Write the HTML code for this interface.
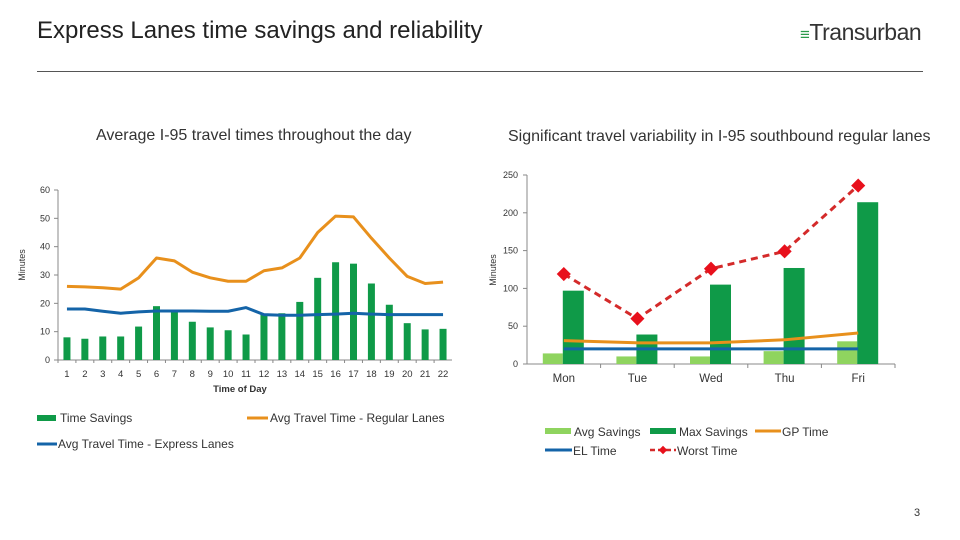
<!DOCTYPE html>
<html><head><meta charset="utf-8"><style>
body{margin:0;width:960px;height:540px;background:#fff;font-family:"Liberation Sans",sans-serif;overflow:hidden;position:relative}
.t{position:absolute;white-space:nowrap}
</style></head><body>
<div class="t" style="left:37px;top:17px;font-size:24px;color:#222">Express Lanes time savings and reliability</div>
<div class="t" style="left:800px;top:19px;font-size:23px;color:#333;letter-spacing:-0.5px"><span style="color:#2a9a4a;font-size:17px">≡</span>Transurban</div>
<div style="position:absolute;left:37px;top:71px;width:886px;height:1px;background:#555"></div>
<div class="t" style="left:96px;top:127px;font-size:16px;color:#333">Average I-95 travel times throughout the day</div>
<div class="t" style="left:508px;top:128px;font-size:16px;color:#333">Significant travel variability in I-95 southbound regular lanes</div>
<div class="t" style="left:914px;top:507px;font-size:11px;color:#333">3</div>
<svg id="c" width="960" height="540" style="position:absolute;left:0;top:0" font-family="Liberation Sans, sans-serif"></svg>
<script>
const hours=[1,2,3,4,5,6,7,8,9,10,11,12,13,14,15,16,17,18,19,20,21,22];
const savings=[8,7.5,8.3,8.3,11.8,19,17,13.5,11.5,10.5,9,16,16.5,20.5,29,34.5,34,27,19.5,13,10.8,11];
const regular=[26,25.8,25.5,25,29,36,35,31,29,27.8,27.8,31.5,32.5,36,45,50.8,50.5,43,36,29.5,27,27.5];
const express=[18,18,17.2,16.5,17,17.3,17.3,17.3,17.2,17.2,18.5,16,15.8,15.8,16,16.2,16.5,16.2,16,16,16,16];
const leftTicks=[0,10,20,30,40,50,60];
const days=["Mon","Tue","Wed","Thu","Fri"];
const avgSav=[14,10,10,17,30];
const maxSav=[97,39,105,127,214];
const gpTime=[31,28,28,32,41];
const elTime=[20,20,20,20,20];
const worst=[119,60,126,149,236];
const rightTicks=[0,50,100,150,200,250];
const S=document.getElementById('c'),NS='http://www.w3.org/2000/svg';
function el(t,a,p){const e=document.createElementNS(NS,t);for(const k in a)e.setAttribute(k,a[k]);(p||S).appendChild(e);return e;}
function tx(x,y,s,sz,anc,extra){const e=el('text',Object.assign({x:x,y:y,'font-size':sz,fill:'#333','text-anchor':anc||'start'},extra||{}));e.textContent=s;return e;}
// left chart
const L={x0:58,x1:452,y0:360,y1:190,max:60};
const lx=i=>L.x0+(L.x1-L.x0)/hours.length*(i+0.5);
const ly=v=>L.y0-(L.y0-L.y1)*v/L.max;
const gl=el('g',{});

el('line',{x1:L.x0,y1:L.y1,x2:L.x0,y2:L.y0,stroke:'#888'},gl);
el('line',{x1:L.x0,y1:L.y0,x2:L.x1,y2:L.y0,stroke:'#888'},gl);
leftTicks.forEach(v=>{el('line',{x1:L.x0-4,x2:L.x0,y1:ly(v),y2:ly(v),stroke:'#888'},gl);const t=tx(L.x0-8,ly(v)+3,v,9,'end');gl.appendChild(t);});
hours.forEach((h,i)=>{const bw=(L.x1-L.x0)/hours.length;el('line',{x1:L.x0+bw*i,x2:L.x0+bw*i,y1:L.y0,y2:L.y0+3,stroke:'#888'},gl);gl.appendChild(tx(lx(i),377,h,9.5,'middle'));});
savings.forEach((v,i)=>{const r=el('rect',{x:lx(i)-3.5,y:ly(v),width:7,height:ly(0)-ly(v),fill:'#0f9a48'},gl);});
function poly(arr,xf,yf,col,w,g,dash){const p=el('polyline',{points:arr.map((v,i)=>xf(i)+','+yf(v)).join(' '),fill:'none',stroke:col,'stroke-width':w,'stroke-linejoin':'round'},g);if(dash)p.setAttribute('stroke-dasharray',dash);return p;}
const pr=poly(regular,lx,ly,'#e8901c',3,gl);
const pe=poly(express,lx,ly,'#1464a8',3,gl);
gl.appendChild(tx(240,392,'Time of Day',9.5,'middle',{'font-weight':'bold'}));
gl.appendChild(tx(25,265,'Minutes',9,'middle',{transform:'rotate(-90 25 265)'}));
// left legend
el('rect',{x:37,y:415,width:19,height:6,fill:'#0f9a48'});tx(60,422,'Time Savings',12);
el('line',{x1:247,x2:268,y1:418,y2:418,stroke:'#e8901c','stroke-width':3});tx(270,422,'Avg Travel Time - Regular Lanes',12);
el('line',{x1:37,x2:57,y1:444,y2:444,stroke:'#1464a8','stroke-width':3});tx(58,448,'Avg Travel Time - Express Lanes',12);
// right chart
const R={x0:527,x1:895,y0:364,y1:175,max:250};
const bw=(R.x1-R.x0)/days.length;
const rx=i=>R.x0+bw*(i+0.5);
const ry=v=>R.y0-(R.y0-R.y1)*v/R.max;
const gr=el('g',{});

el('line',{x1:R.x0,y1:R.y1,x2:R.x0,y2:R.y0,stroke:'#888'},gr);
el('line',{x1:R.x0,y1:R.y0,x2:R.x1,y2:R.y0,stroke:'#888'},gr);
rightTicks.forEach(v=>{el('line',{x1:R.x0-4,x2:R.x0,y1:ry(v),y2:ry(v),stroke:'#888'},gr);gr.appendChild(tx(R.x0-9,ry(v)+3,v,9,'end'));});
days.forEach((d,i)=>{el('line',{x1:R.x0+bw*(i+1),x2:R.x0+bw*(i+1),y1:R.y0,y2:R.y0+4,stroke:'#888'},gr);gr.appendChild(tx(rx(i),382,d,11.5,'middle'));});
avgSav.forEach((v,i)=>{const r=el('rect',{x:rx(i)-21,y:ry(v),width:20,height:ry(0)-ry(v),fill:'#8fd45f'},gr);});
maxSav.forEach((v,i)=>{const r=el('rect',{x:rx(i)-1,y:ry(v),width:21,height:ry(0)-ry(v),fill:'#0f9a48'},gr);});
const pg=poly(gpTime,rx,ry,'#e8901c',3,gr);
const pl=poly(elTime,rx,ry,'#1464a8',3,gr);
const pw=poly(worst,rx,ry,'#d42a2a',3,gr,'7,5');
worst.forEach((v,i)=>{const m=el('rect',{x:rx(i)-5,y:ry(v)-5,width:10,height:10,fill:'#e8101c',transform:`rotate(45 ${rx(i)} ${ry(v)})`},gr);});
gr.appendChild(tx(496,270,'Minutes',9,'middle',{transform:'rotate(-90 496 270)'}));
// right legend
el('rect',{x:545,y:428,width:26,height:6,fill:'#8fd45f'});tx(574,436,'Avg Savings',12);
el('rect',{x:650,y:428,width:26,height:6,fill:'#0f9a48'});tx(679,436,'Max Savings',12);
el('line',{x1:755,x2:781,y1:431,y2:431,stroke:'#e8901c','stroke-width':3});tx(782,436,'GP Time',12);
el('line',{x1:545,x2:572,y1:450,y2:450,stroke:'#1464a8','stroke-width':3});tx(573,455,'EL Time',12);
el('line',{x1:650,x2:676,y1:450,y2:450,stroke:'#d42a2a','stroke-width':2.5,'stroke-dasharray':'5,3'});
el('rect',{x:660,y:447,width:6,height:6,fill:'#e8101c',transform:'rotate(45 663 450)'});tx(677,455,'Worst Time',12);
</script>
</body></html>
